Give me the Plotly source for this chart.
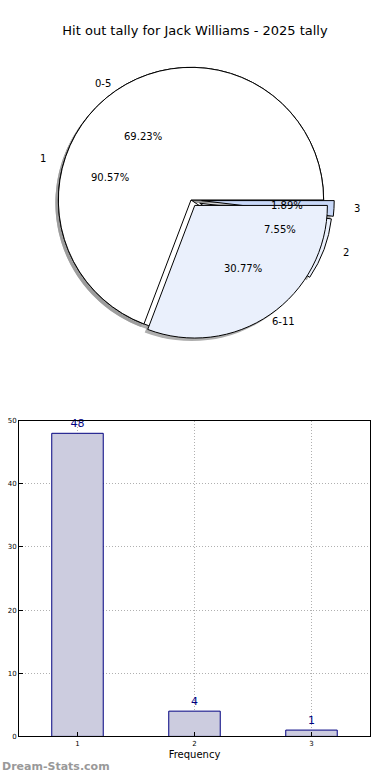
import math
import plotly.graph_objects as go

W, H = 390, 780

title_text = "Hit out tally for Jack Williams - 2025 tally"

# Outer grouping pie
group_labels = ["0-5", "6-11"]
group_values = [69.23, 30.77]
group_colors = ["#ffffff", "#eaf0fc"]
group_explode = [0.0, 0.05]

# Hit-out count pie
count_labels = ["1", "2", "3"]
count_values = [48, 4, 1]
count_colors = ["#ffffff", "#eaf0fc", "#c8d8f8"]
count_explode = [0.0, 0.07, 0.08]

# Bar chart
bar_x = [1, 2, 3]
bar_y = [48, 4, 1]


def fx(x):
    return x / W


def fy(y):
    return 1 - y / H


# pie geometry (window pixels)
CX, CY, R = 191, 198, 134
TRX, TRY = 141, 130  # text ellipse radii


def domain_for(pull, dx=0, dy=0):
    half = R * (1 + pull)
    return dict(x=[fx(CX + dx - half), fx(CX + dx + half)],
                y=[fy(CY + dy + half), fy(CY + dy - half)])


def start_rotation(vals):
    # first slice spans counter-clockwise from 3 o'clock (matplotlib startangle=0)
    return 90 - vals[0] / sum(vals) * 360


fig = go.Figure()

# shadows
for vals, expl in [(count_values, count_explode), (group_values, group_explode)]:
    p = max(expl)
    fig.add_trace(go.Pie(values=vals, sort=False, direction="counterclockwise",
                         rotation=start_rotation(vals),
                         pull=expl, domain=domain_for(p, -3, 3), textinfo="none",
                         marker=dict(colors=["#9a9a9a"] * len(vals), line=dict(width=0)),
                         hoverinfo="skip", showlegend=False, opacity=0.8))

fig.add_trace(go.Pie(labels=count_labels, values=count_values, sort=False,
                     direction="counterclockwise", rotation=start_rotation(count_values),
                     pull=count_explode,
                     domain=domain_for(max(count_explode)), textinfo="none",
                     marker=dict(colors=count_colors, line=dict(color="#000", width=1)),
                     showlegend=False))
fig.add_trace(go.Pie(labels=group_labels, values=group_values, sort=False,
                     direction="counterclockwise", rotation=start_rotation(group_values),
                     pull=group_explode,
                     domain=domain_for(max(group_explode)), textinfo="none",
                     marker=dict(colors=group_colors, line=dict(color="#000", width=1)),
                     showlegend=False))


def pie_texts(labels, values, explode):
    total = sum(values)
    start = 0.0
    for lab, v, e in zip(labels, values, explode):
        frac = v / total
        mid = math.radians(start + frac * 180)
        start += frac * 360
        c, s = math.cos(mid), math.sin(mid)
        for rf, txt in [(1.1 + e, lab), (0.6 + e, f"{frac*100:.2f}%")]:
            px = CX + rf * TRX * c
            py = CY - rf * TRY * s
            fig.add_annotation(x=fx(px), y=fy(py), xref="paper", yref="paper",
                               xanchor="center", yanchor="middle",
                               text=txt, showarrow=False,
                               font=dict(family="DejaVu Sans", size=10, color="#000"))


pie_texts(group_labels, group_values, group_explode)
pie_texts(count_labels, count_values, count_explode)

fig.add_trace(go.Bar(x=bar_x, y=bar_y, width=0.44, text=[str(v) for v in bar_y],
                     textposition="outside", cliponaxis=False,
                     textfont=dict(family="DejaVu Sans", size=11, color="#000080"),
                     marker=dict(color="#ccccdf", line=dict(color="#000080", width=1)),
                     showlegend=False, xaxis="x", yaxis="y"))

fig.update_layout(
    width=W, height=H, margin=dict(l=0, r=0, t=0, b=0),
    paper_bgcolor="#fff", plot_bgcolor="#fff",
    title=dict(text=title_text, x=fx(195), xanchor="center", y=fy(30), yanchor="middle",
               font=dict(family="DejaVu Sans", size=13, color="#000")),
    xaxis=dict(domain=[fx(19), fx(370)], range=[0.5, 3.5], tickvals=bar_x,
               showline=True, mirror=True, linecolor="#000", linewidth=1,
               ticks="inside", ticklen=4, tickcolor="#000",
               showgrid=True, gridcolor="#b0b0b0", griddash="1px,2px",
               tickfont=dict(family="DejaVu Sans", size=7, color="#000"),
               title=dict(text="Frequency", standoff=4,
                          font=dict(family="DejaVu Sans", size=10, color="#000")),
               zeroline=False),
    yaxis=dict(domain=[fy(740), fy(421)], range=[0, 50], dtick=10,
               showline=True, mirror=True, linecolor="#000", linewidth=1,
               ticks="inside", ticklen=4, tickcolor="#000",
               showgrid=True, gridcolor="#b0b0b0", griddash="1px,2px",
               tickfont=dict(family="DejaVu Sans", size=7, color="#000"),
               zeroline=False),
)

fig.add_annotation(x=fx(0), y=fy(770), xref="paper", yref="paper", xanchor="left",
                   yanchor="middle",
                   text="<b>Dream-Stats.com</b>", showarrow=False,
                   font=dict(family="DejaVu Sans", size=11, color="#999999"))

fig.write_html("out.html", config={"displayModeBar": False},
               post_script="document.body.style.margin='0';document.body.style.overflow='hidden';")
